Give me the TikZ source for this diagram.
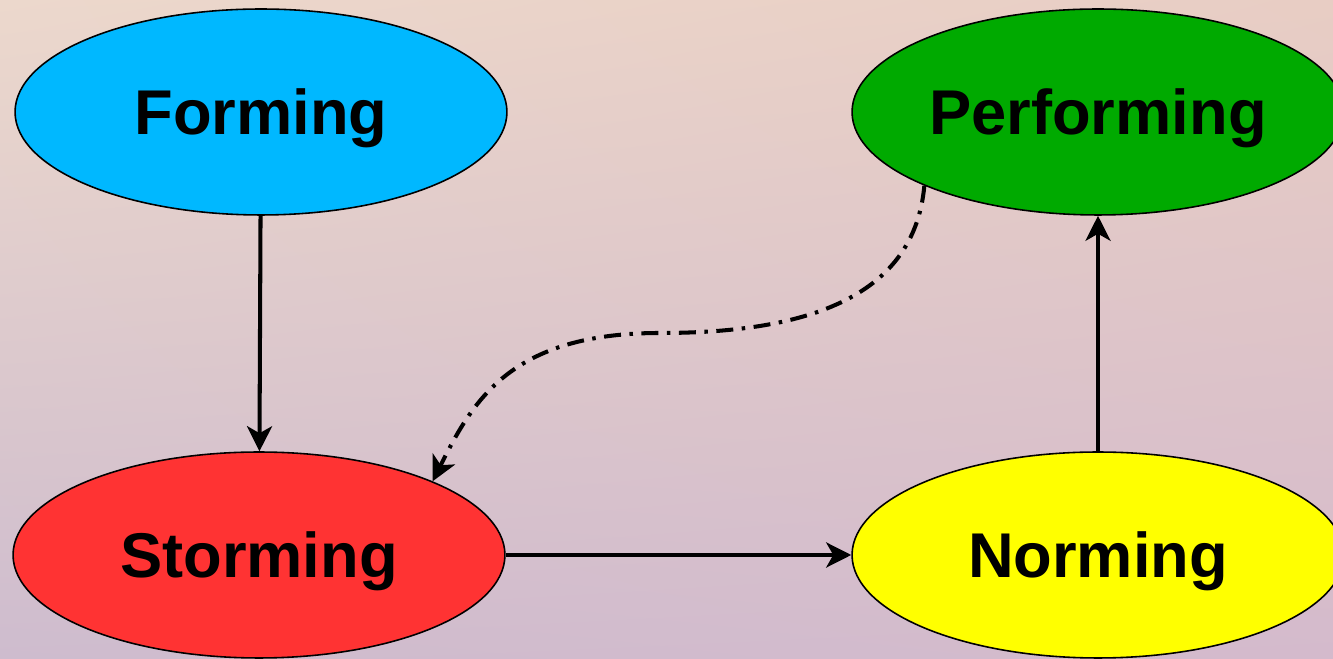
\documentclass[tikz,border=0pt]{standalone}
\usepackage{fontspec}
\setmainfont{Liberation Sans}
\usetikzlibrary{shapes.geometric,arrows.meta,shadings}
\definecolor{bgtl}{RGB}{236,216,204}
\definecolor{bgtr}{RGB}{232,205,196}
\definecolor{bgbl}{RGB}{206,188,206}
\definecolor{bgbr}{RGB}{212,186,204}
\definecolor{cform}{RGB}{0,184,255}
\definecolor{cperf}{RGB}{0,170,0}
\definecolor{cstorm}{RGB}{255,51,51}
\definecolor{cnorm}{RGB}{255,255,0}
\tikzset{
  stage/.style={ellipse, draw=black, line width=0.9pt, inner sep=0pt,
    minimum width=9.84cm, minimum height=4.12cm, text depth=0pt,
    font=\fontsize{36}{40}\selectfont\bfseries},
  flow/.style={line width=2.3pt, -{Stealth[length=0.5cm,width=0.5cm,inset=0.14cm]}},
  back/.style={flow, dash pattern=on 0.34cm off 0.17cm on 0.07cm off 0.17cm}
}
\begin{document}
\begin{tikzpicture}[x=0.02cm,y=0.02cm]
\useasboundingbox (0,0) rectangle (1333,659);
\clip (0,0) rectangle (1333,659);
\shade[upper left=bgtl, upper right=bgtr, lower left=bgbl, lower right=bgbr] (0,0) rectangle (1333,659);
\node[stage, fill=cform]  (F) at (261,547) {Forming};
\node[stage, fill=cperf]  (P) at (1098,547) {Performing};
\node[stage, fill=cstorm] (S) at (259,104) {Storming};
\node[stage, fill=cnorm]  (N) at (1098,104) {Norming};
\draw[flow] (F) -- (S);
\draw[flow] (S) -- (N);
\draw[flow] (N) -- (P);
\draw[back] (P.203) .. controls ++(-10,-110) and ++(150,0) .. (660,326)
  .. controls ++(-150,0) and ++(40,80) .. (S.23);
\end{tikzpicture}
\end{document}
